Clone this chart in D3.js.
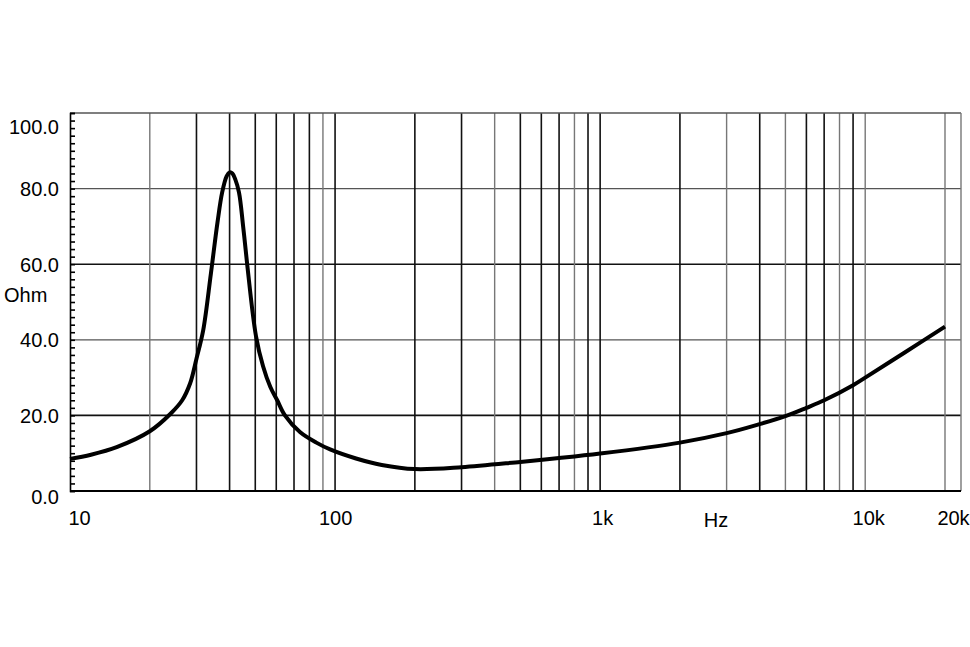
<!DOCTYPE html>
<html>
<head>
<meta charset="utf-8">
<script src="https://cdn.jsdelivr.net/npm/d3@7"></script>
<style>
  html, body { margin: 0; padding: 0; background: #fff; }
  svg text { font-family: "Liberation Sans", Arial, sans-serif; fill: #000; }
</style>
</head>
<body>
<svg id="chart" width="970" height="647"></svg>
<script>
// ---- data ----
const freqHz = [10, 12, 15, 20, 24, 26.5, 28.4, 30, 31.8, 34, 36, 37.5, 39, 40, 41, 42, 43.4, 45, 46.6, 50.3, 53.5, 57, 60.5, 64.7, 73.7, 85, 95.8, 120, 150, 200, 300, 500, 700, 1000, 2000, 3000, 4000, 5000, 6000, 7000, 9000, 10000, 14000, 20000];
const impedanceOhm = [8.5, 9.6, 11.6, 15.8, 20.5, 24, 28.5, 35, 42.5, 57.5, 71, 79, 83.3, 84.3, 84, 82.5, 79, 70, 60, 41, 33, 27.5, 24, 20, 15.6, 12.8, 11, 8.6, 6.9, 5.8, 6.3, 7.7, 8.7, 9.9, 12.8, 15.3, 17.7, 19.8, 22, 24, 28, 30, 36.5, 43.5];
const gridFreqs = [20, 30, 40, 50, 60, 70, 80, 90, 100, 200, 300, 400, 500, 600, 700, 800, 900, 1000, 2000, 3000, 4000, 5000, 6000, 7000, 8000, 9000, 10000, 20000];
const lightGridFreqs = [20, 90, 400, 800, 3000, 5000, 8000, 10000, 20000];
const xTickValues = [10, 100, 1000, 10000, 20000];
const xTickLabels = ["10", "100", "1k", "10k", "20k"];
const yTickValues = [0, 20, 40, 60, 80, 100];
const yTickLabels = ["0.0", "20.0", "40.0", "60.0", "80.0", "100.0"];
const yAxisTitle = "Ohm";
const xAxisTitle = "Hz";

// ---- layout ----
const svg = d3.select("#chart");
const pLeft = 70, pRight = 961, pTop = 113, pBottom = 491;
const x = d3.scaleLog().domain([10, 20000]).range([70, 945]);
const y = d3.scaleLinear().domain([0, 100]).range([pBottom, pTop]);

// horizontal grid
svg.append("g").selectAll("line")
  .data(yTickValues.filter(v => v > 0 && v < 100))
  .join("line")
  .attr("x1", pLeft).attr("x2", pRight)
  .attr("y1", d => y(d)).attr("y2", d => y(d))
  .attr("stroke", d => (d === 20 || d === 60) ? "#111" : "#555")
  .attr("stroke-width", d => (d === 20 || d === 60) ? 1.6 : 1.3);

// vertical grid
svg.append("g").selectAll("line")
  .data(gridFreqs)
  .join("line")
  .attr("x1", d => x(d)).attr("x2", d => x(d))
  .attr("y1", pTop).attr("y2", pBottom)
  .attr("stroke", d => lightGridFreqs.includes(d) ? "#777" : "#111")
  .attr("stroke-width", d => lightGridFreqs.includes(d) ? 1.4 : 1.6);

// frame: top & right borders
svg.append("line").attr("x1", pLeft).attr("x2", pRight).attr("y1", pTop).attr("y2", pTop)
  .attr("stroke", "#555").attr("stroke-width", 1.4);
svg.append("line").attr("x1", pRight).attr("x2", pRight).attr("y1", pTop).attr("y2", pBottom)
  .attr("stroke", "#777").attr("stroke-width", 1.4);

// left axis with small ticks every 2 ohm (inside)
const yMinor = d3.range(0, 101, 2);
const yAxisG = svg.append("g").attr("transform", `translate(${pLeft},0)`)
  .call(d3.axisRight(y).tickValues(yMinor).tickSize(5).tickFormat(""));
yAxisG.select(".domain").attr("stroke", "#000").attr("stroke-width", 1.6);
yAxisG.selectAll(".tick line").attr("stroke", "#000").attr("stroke-width", 1.6);

// y labels
const yLab = svg.append("g").attr("transform", `translate(${pLeft},0)`)
  .call(d3.axisLeft(y).tickValues(yTickValues).tickSize(0).tickPadding(11)
    .tickFormat((d, i) => yTickLabels[i]));
yLab.select(".domain").remove();
yLab.selectAll("text")
  .style("font-size", "20px")
  .attr("dy", d => d === 100 ? "1.0em" : d === 0 ? "0.62em" : "0.34em");

// bottom axis
const xAxisG = svg.append("g").attr("transform", `translate(0,${pBottom})`)
  .call(d3.axisBottom(x).tickValues(xTickValues).tickSize(0).tickPadding(20)
    .tickFormat((d, i) => xTickLabels[i]));
xAxisG.select(".domain").attr("d", `M${pLeft},0H${pRight}`).attr("stroke", "#000").attr("stroke-width", 1.8);
xAxisG.selectAll("text")
  .style("font-size", "20px")
  .attr("dx", d => d === 10 ? 9 : d === 20000 ? 8 : d === 1000 ? 2 : d === 10000 ? 3 : 0);

// axis titles
svg.append("text").attr("x", 4).attr("y", 302).style("font-size", "20px").text(yAxisTitle);
svg.append("text").attr("x", 716).attr("y", 527).attr("text-anchor", "middle")
  .style("font-size", "20px").text(xAxisTitle);

// impedance curve
const pts = freqHz.map((f, i) => [f, impedanceOhm[i]]);
svg.append("path")
  .datum(pts)
  .attr("fill", "none")
  .attr("stroke", "#000")
  .attr("stroke-width", 4)
  .attr("stroke-linejoin", "round")
  .attr("d", d3.line().x(d => x(d[0])).y(d => y(d[1])).curve(d3.curveCatmullRom.alpha(0.5)));
</script>
</body>
</html>
